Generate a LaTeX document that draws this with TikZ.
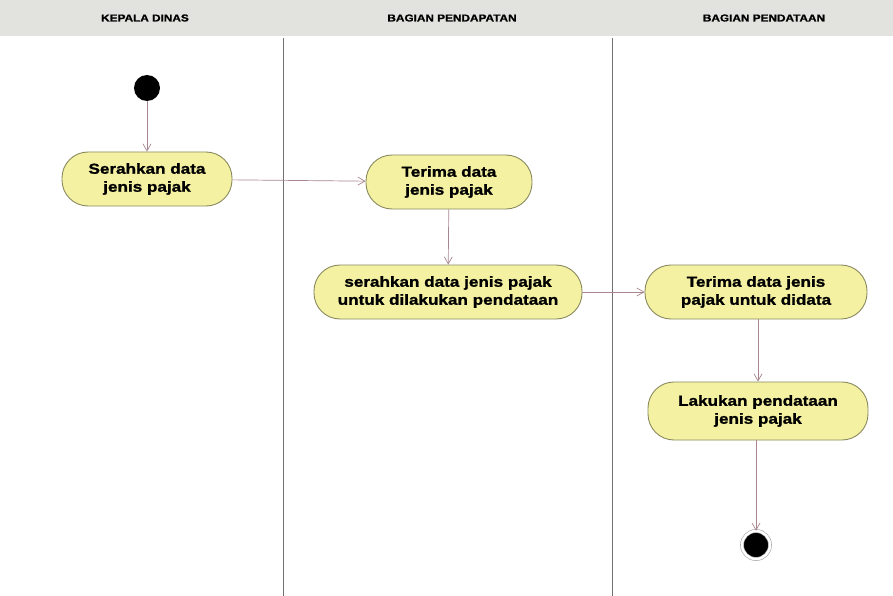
\documentclass[tikz,border=0pt]{standalone}
\usepackage{fontspec}
\setmainfont{Liberation Sans}
\newfontfamily\diagfont{Liberation Sans Bold}[FakeStretch=1.18,FakeBold=1.2]
\usetikzlibrary{arrows.meta}
\definecolor{lanehead}{HTML}{E2E2DF}
\definecolor{actfill}{HTML}{F4F1A2}
\definecolor{actdraw}{HTML}{8A8A60}
\definecolor{flowcol}{HTML}{A8868E}
\definecolor{divider}{HTML}{707070}
\begin{document}
\begin{tikzpicture}[x=1pt,y=-1pt,
  activity/.style={draw=actdraw,fill=actfill,line width=0.9pt,rounded corners=26pt,
    minimum height=54pt,align=center,font=\diagfont\fontsize{14.5}{18}\selectfont,inner xsep=10pt},
  flow/.style={draw=flowcol,line width=0.7pt,-{Straight Barb[length=7pt,width=8pt]}},
  headtext/.style={font=\diagfont\fontsize{10}{12}\selectfont},
  startnode/.style={circle,fill=black,minimum size=26pt,inner sep=0pt},
  endnode/.style={circle,fill=black,minimum size=28pt,inner sep=0pt,
    double=white,double distance=2.5pt,draw=gray!70,line width=0.6pt}]
\useasboundingbox (0,0) rectangle (893,596);
\fill[white] (0,0) rectangle (893,596);
% swimlane header band and dividers
\fill[lanehead] (0,0) rectangle (893,36);
\node[headtext] (h1) at (145,18) {KEPALA DINAS};
\node[headtext] (h2) at (452,18) {BAGIAN PENDAPATAN};
\node[headtext] (h3) at (764,18) {BAGIAN PENDATAAN};
\draw[divider,line width=0.8pt] (283,38) -- (283,596);
\draw[divider,line width=0.8pt] (612,38) -- (612,596);
% nodes
\node[startnode] (start) at (147,88) {};
\node[activity,minimum width=170pt] (a1) at (147,179) {Serahkan data\\jenis pajak};
\node[activity,minimum width=166pt] (a2) at (449,182) {Terima data\\jenis pajak};
\node[activity,minimum width=268pt] (a3) at (448,292) {serahkan data jenis pajak\\untuk dilakukan pendataan};
\node[activity,minimum width=222pt] (a4) at (756,292) {Terima data jenis\\pajak untuk didata};
\node[activity,minimum width=220pt,minimum height=58pt] (a5) at (758,411) {Lakukan pendataan\\jenis pajak};
\node[endnode] (end) at (756,545) {};
% control flows
\draw[flow] (start) -- (a1);
\draw[flow] (a1) -- (a2);
\draw[flow] (a2) -- (a3);
\draw[flow] (a3) -- (a4);
\draw[flow] (a4.south -| a5.north) -- (a5);
\draw[flow] (a5.south -| end.north) -- (end);
\end{tikzpicture}
\end{document}
